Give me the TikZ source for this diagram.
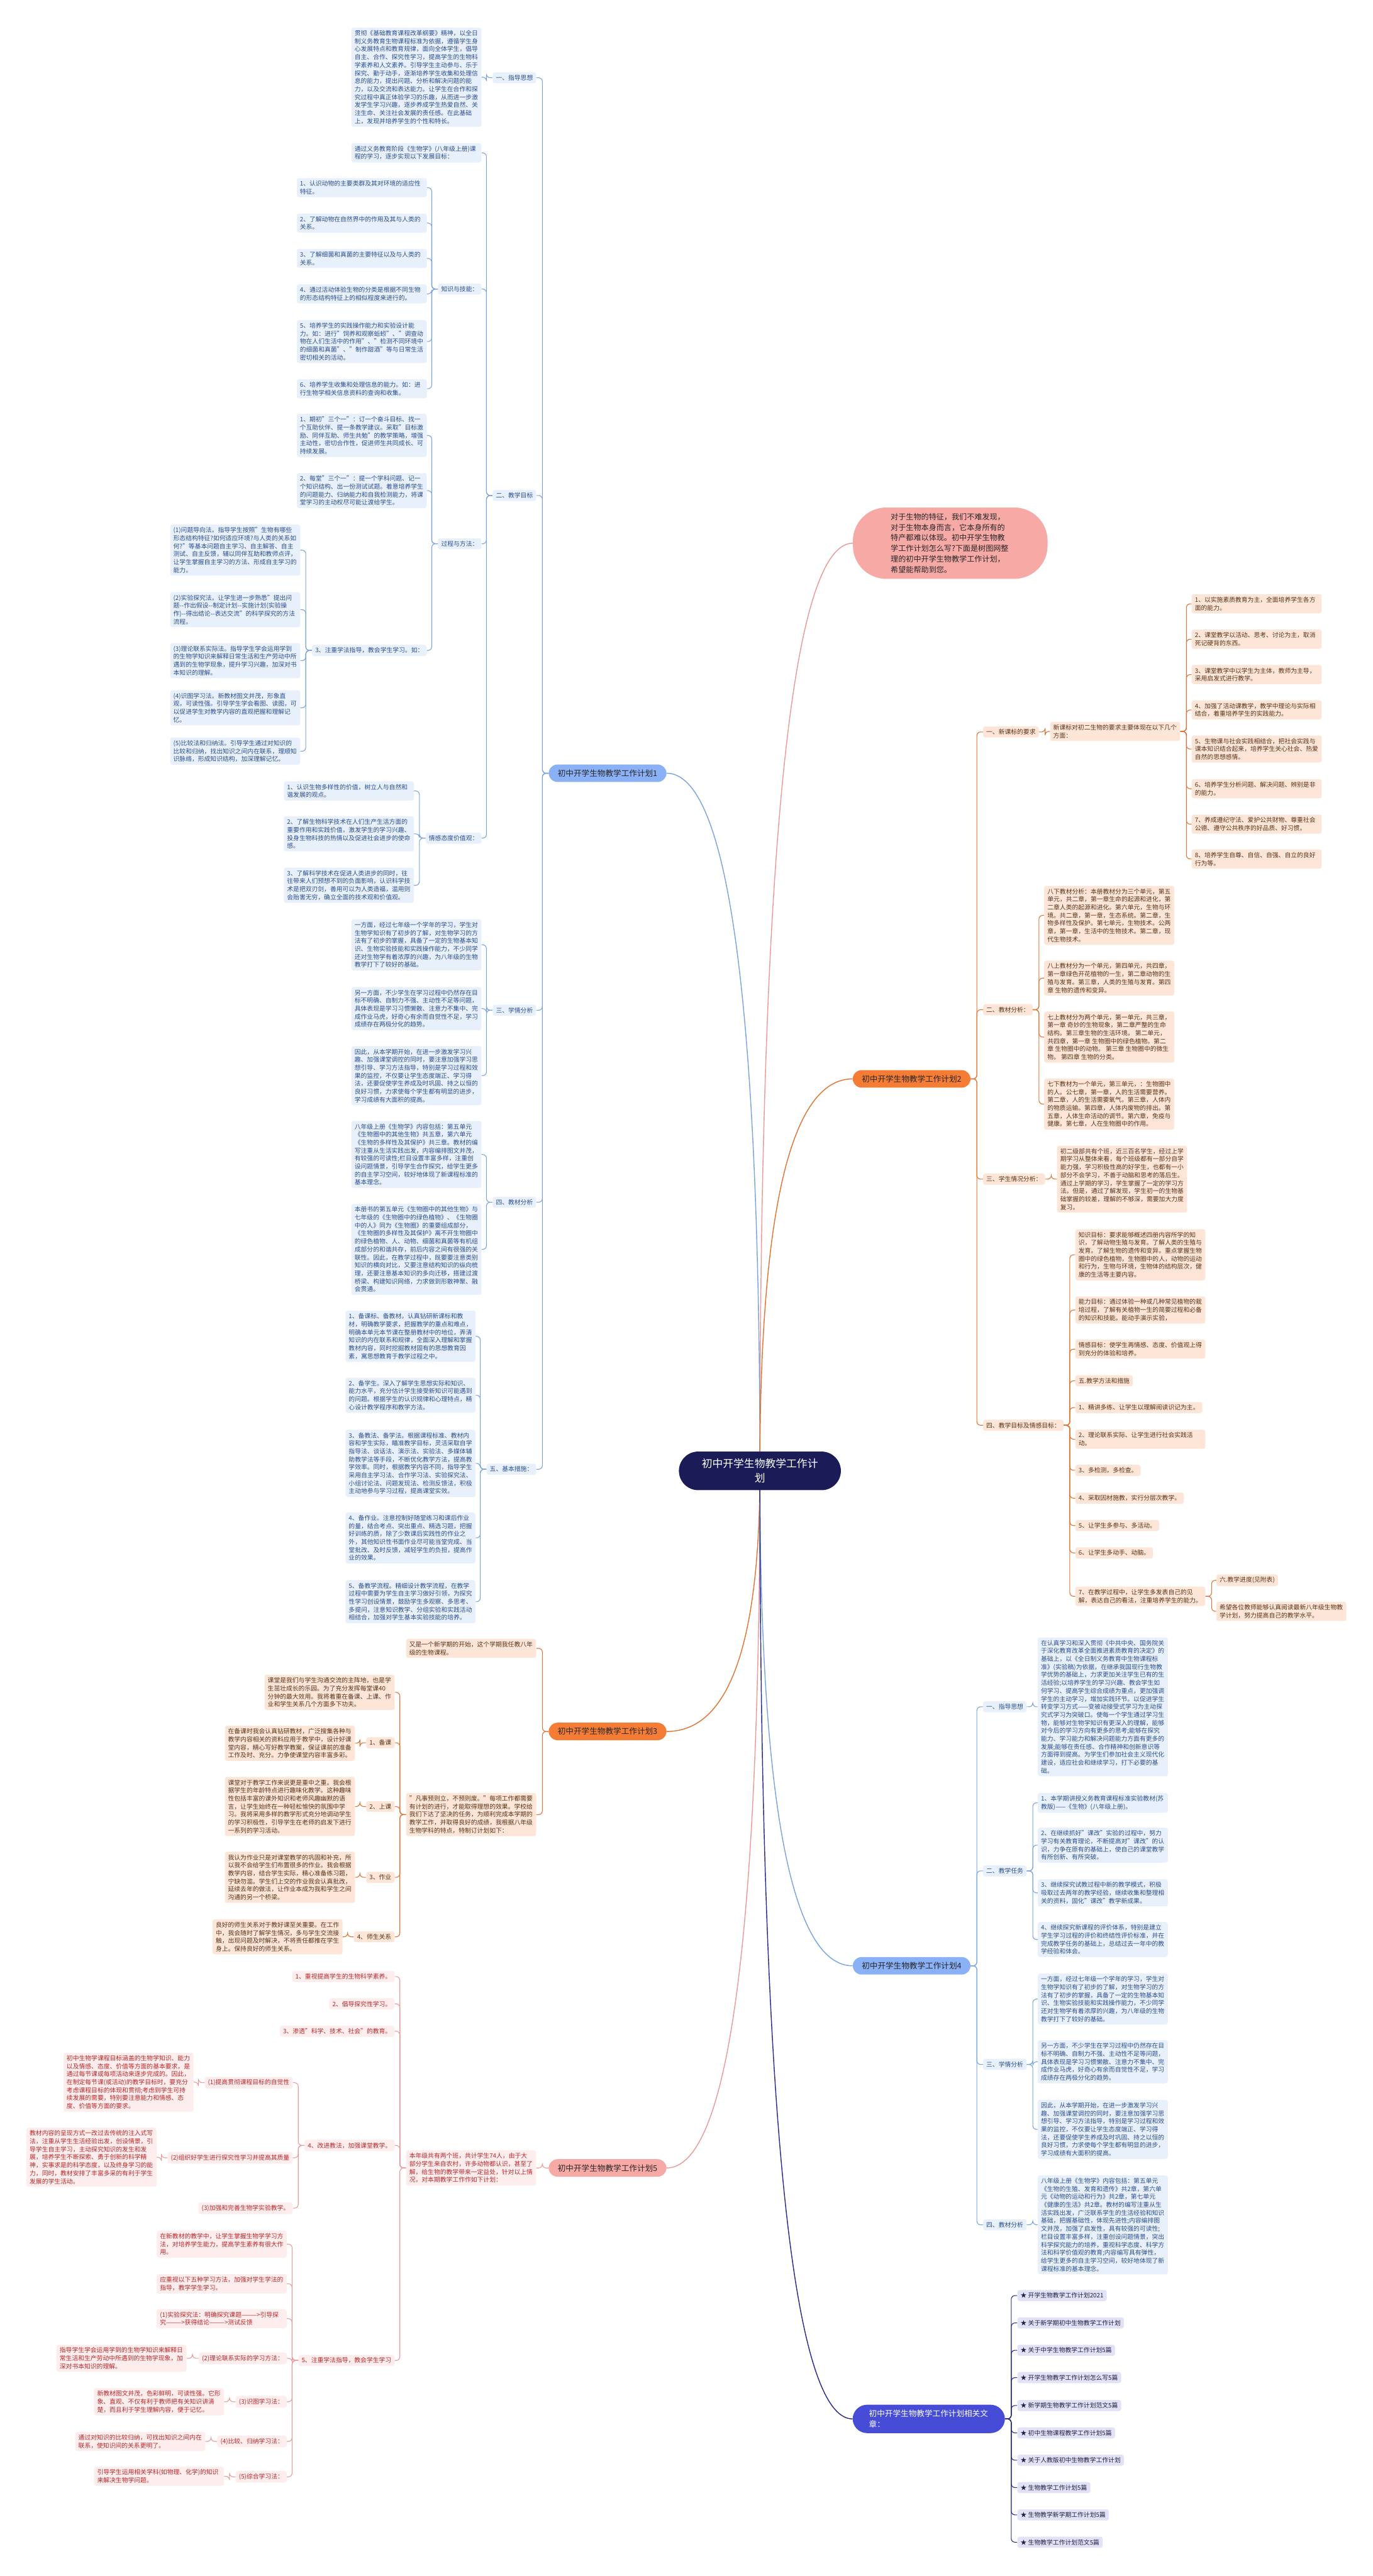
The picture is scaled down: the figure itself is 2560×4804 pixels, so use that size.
\documentclass[tikz,border=0pt]{standalone}
\usepackage{fontspec}
\setmainfont{Noto Sans CJK SC}
\usetikzlibrary{backgrounds}
\XeTeXlinebreaklocale "zh"
\XeTeXlinebreakskip=0pt plus 1pt

\definecolor{blLine}{HTML}{7BA3E0}
\definecolor{blFill}{HTML}{E8F0FC}
\definecolor{blText}{HTML}{2B4F8E}
\definecolor{blMain}{HTML}{8AB0F5}
\definecolor{orLine}{HTML}{E07434}
\definecolor{orFill}{HTML}{FDE5D7}
\definecolor{orText}{HTML}{5A3418}
\definecolor{orMain}{HTML}{F57C35}
\definecolor{pkLine}{HTML}{EC9A98}
\definecolor{pkFill}{HTML}{FDEDED}
\definecolor{pkText}{HTML}{B8282A}
\definecolor{pkMain}{HTML}{F7A9A6}
\definecolor{inLine}{HTML}{2A2C8C}
\definecolor{inFill}{HTML}{E1E1F8}
\definecolor{inText}{HTML}{202040}
\definecolor{inMain}{HTML}{474CD6}
\definecolor{rootFill}{HTML}{1B1B58}

\tikzset{
  txt/.style={rounded corners=4pt, inner xsep=6pt, inner ysep=5pt, align=flush left,
    font=\fontsize{11.5}{14.9}\selectfont},
  para/.style={txt, text width=230.5pt},
  bluebox/.style={fill=blFill, text=blText},
  orangebox/.style={fill=orFill, text=orText},
  pinkbox/.style={fill=pkFill, text=pkText},
  indigobox/.style={fill=inFill, text=inText},
  plan/.style={rounded corners=17pt, inner xsep=17pt, inner ysep=9.5pt, text=black!85,
    font=\fontsize{14.8}{19}\selectfont},
  link/.style={line width=1.3pt, rounded corners=7pt},
  bwire/.style={link, draw=blLine},
  owire/.style={link, draw=orLine},
  pwire/.style={link, draw=pkLine},
  iwire/.style={link, draw=inLine},
  trunk/.style={line width=1.7pt},
}

% 左侧 / 右侧 分支：父节点 -> 一组子节点
\newcommand\leftfan[3]{\foreach \kid in {#3} {\draw[#1] (#2.west) -- ++(-11.5,0) |- (\kid.east);}}
\newcommand\rightfan[3]{\foreach \kid in {#3} {\draw[#1] (#2.east) -- ++(11.5,0) |- (\kid.west);}}

\begin{document}
\begin{tikzpicture}[x=1pt, y=-1pt, line cap=round, line join=round]

  %% ════ 中心与一级节点 ════
  \node[rounded corners=36pt, fill=rootFill, text=white, minimum width=302pt, minimum height=72pt,
    inner sep=0pt, align=center, font=\fontsize{19.7}{27}\selectfont] (root) at (1417,2743)
    {初中开学生物教学工作计\\划};
  \node[rounded corners=62pt, fill=pkMain, text=black!85, minimum width=363pt, minimum height=133pt,
    text width=222pt, align=flush left, font=\fontsize{14.2}{19.8}\selectfont] (intro) at (1772,1013)
    {对于生物的特征，我们不难发现，\\对于生物本身而言，它本身所有的\\特产都难以体现。初中开学生物教\\学工作计划怎么写?下面是树图网整\\理的初中开学生物教学工作计划，\\希望能帮助到您。};
  \node[plan, fill=blMain] (pa) at (1133,1442) {初中开学生物教学工作计划1};
  \node[plan, fill=orMain] (pb) at (1700,2012) {初中开学生物教学工作计划2};
  \node[plan, fill=orMain] (pc) at (1133,3229) {初中开学生物教学工作计划3};
  \node[plan, fill=blMain] (pd) at (1700,3666) {初中开学生物教学工作计划4};
  \node[plan, fill=pkMain] (pe) at (1133,4043) {初中开学生物教学工作计划5};
  \node[rounded corners=27pt, fill=inMain, text=white, text width=223pt, inner xsep=30.5pt,
    inner ysep=9.6pt, align=flush left, font=\fontsize{14.8}{20}\selectfont] (rel) at (1732,4511)
    {初中开学生物教学工作计划相关文\\章：};

  %% ════ 计划1（左，蓝）════
  \node[txt, bluebox, anchor=east] (a1) at (1000,145) {一、指导思想};
  \node[txt, bluebox, anchor=east] (a2) at (1000,924) {二、教学目标};
  \node[txt, bluebox, anchor=east] (a3) at (1000,1884) {三、学情分析};
  \node[txt, bluebox, anchor=east] (a4) at (1000,2242) {四、教材分析};
  \node[txt, bluebox, anchor=east] (a5) at (1000,2740) {五、基本措施：};

  \node[para, bluebox, anchor=east] (a1t) at (898,144) {贯彻《基础教育课程改革纲要》精神，以全日制义务教育生物课程标准为依据，遵循学生身心发展特点和教育规律，面向全体学生，倡导自主、合作、探究性学习，提高学生的生物科学素养和人文素养。引导学生主动参与、乐于探究、勤于动手，逐渐培养学生收集和处理信息的能力，提出问题、分析和解决问题的能力，以及交流和表达能力。让学生在合作和探究过程中真正体验学习的乐趣，从而进一步激发学生学习兴趣，逐步养成学生热爱自然、关注生命、关注社会发展的责任感。在此基础上，发现并培养学生的个性和特长。};

  \node[para, bluebox, anchor=east] (a2a) at (898,285) {通过义务教育阶段《生物学》(八年级上册)课程的学习，逐步实现以下发展目标：};
  \node[txt, bluebox, anchor=east] (a2b) at (898,539) {知识与技能：};
  \node[txt, bluebox, anchor=east] (a2c) at (898,1014) {过程与方法：};
  \node[txt, bluebox, anchor=east] (a2d) at (898,1563) {情感态度价值观：};

  \node[para, bluebox, anchor=east] (k1) at (796,350) {1、认识动物的主要类群及其对环境的适应性特征。};
  \node[para, bluebox, anchor=east] (k2) at (796,416) {2、了解动物在自然界中的作用及其与人类的关系。};
  \node[para, bluebox, anchor=east] (k3) at (796,482) {3、了解细菌和真菌的主要特征以及与人类的关系。};
  \node[para, bluebox, anchor=east] (k4) at (796,548) {4、通过活动体验生物的分类是根据不同生物的形态结构特征上的相似程度来进行的。};
  \node[para, bluebox, anchor=east] (k5) at (796,637) {5、培养学生的实践操作能力和实验设计能力。如：进行"饲养和观察蚯蚓"、"调查动物在人们生活中的作用"、"检测不同环境中的细菌和真菌"、"制作甜酒"等与日常生活密切相关的活动。};
  \node[para, bluebox, anchor=east] (k6) at (796,725) {6、培养学生收集和处理信息的能力。如：进行生物学相关信息资料的查询和收集。};

  \node[para, bluebox, anchor=east] (m1) at (796,812) {1、期初"三个一"：订一个奋斗目标、找一个互助伙伴、提一条教学建议。采取"目标激励、同伴互助、师生共勉"的教学策略，增强主动性，密切合作性，促进师生共同成长、可持续发展。};
  \node[para, bluebox, anchor=east] (m2) at (796,915) {2、每堂"三个一"：提一个学科问题、记一个知识结构、出一份测试试题。着意培养学生的问题能力、归纳能力和自我检测能力，将课堂学习的主动权尽可能让渡给学生。};
  \node[txt, bluebox, anchor=east] (m3) at (796,1213) {3、注重学法指导，教会学生学习。如：};

  \node[para, bluebox, anchor=east] (f1) at (560,1026) {(1)问题导向法。指导学生按照"生物有哪些形态结构特征?如何适应环境?与人类的关系如何?"等基本问题自主学习、自主解答、自主测试、自主反馈，辅以同伴互助和教师点评，让学生掌握自主学习的方法、形成自主学习的能力。};
  \node[para, bluebox, anchor=east] (f2) at (560,1137) {(2)实验探究法。让学生进一步熟悉"提出问题-{}-作出假设-{}-制定计划-{}-实施计划(实验操作)-{}-得出结论-{}-表达交流"的科学探究的方法流程。};
  \node[para, bluebox, anchor=east] (f3) at (560,1232) {(3)理论联系实际法。指导学生学会运用学到的生物学知识来解释日常生活和生产劳动中所遇到的生物学现象，提升学习兴趣，加深对书本知识的理解。};
  \node[para, bluebox, anchor=east] (f4) at (560,1320) {(4)识图学习法。新教材图文并茂，形象直观，可读性强。引导学生学会看图、读图，可以促进学生对教学内容的直观把握和理解记忆。};
  \node[para, bluebox, anchor=east] (f5) at (560,1401) {(5)比较法和归纳法。引导学生通过对知识的比较和归纳，找出知识之间内在联系，理顺知识脉络，形成知识结构，加深理解记忆。};

  \node[para, bluebox, anchor=east] (v1) at (772,1475) {1、认识生物多样性的价值，树立人与自然和谐发展的观点。};
  \node[para, bluebox, anchor=east] (v2) at (772,1555) {2、了解生物科学技术在人们生产生活方面的重要作用和实践价值，激发学生的学习兴趣、投身生物科技的热情以及促进社会进步的使命感。};
  \node[para, bluebox, anchor=east] (v3) at (772,1651) {3、了解科学技术在促进人类进步的同时，往往带来人们预想不到的负面影响，认识科学技术是把双刃剑，善用可以为人类造福，滥用则会贻害无穷，确立全面的技术观和价值观。};

  \node[para, bluebox, anchor=east] (a3a) at (898,1762) {一方面，经过七年级一个学年的学习，学生对生物学知识有了初步的了解，对生物学习的方法有了初步的掌握，具备了一定的生物基本知识、生物实验技能和实践操作能力，不少同学还对生物学有着浓厚的兴趣，为八年级的生物教学打下了较好的基础。};
  \node[para, bluebox, anchor=east] (a3b) at (898,1881) {另一方面，不少学生在学习过程中仍然存在目标不明确、自制力不强、主动性不足等问题，具体表现是学习习惯懒散、注意力不集中、完成作业马虎，好奇心有余而自觉性不足，学习成绩存在两极分化的趋势。};
  \node[para, bluebox, anchor=east] (a3c) at (898,2006) {因此，从本学期开始，在进一步激发学习兴趣、加强课堂调控的同时，要注意加强学习思想引导、学习方法指导，特别是学习过程和效果的监控，不仅要让学生态度端正、学习得法，还要促使学生养成及时巩固、持之以恒的良好习惯，力求使每个学生都有明显的进步，学习成绩有大面积的提高。};

  \node[para, bluebox, anchor=east] (a4a) at (898,2153) {八年级上册《生物学》内容包括：第五单元《生物圈中的其他生物》共五章，第六单元《生物的多样性及其保护》共三章。教材的编写注重从生活实践出发，内容编排图文并茂，有较强的可读性;栏目设置丰富多样，注重创设问题情景，引导学生合作探究，给学生更多的自主学习空间，较好地体现了新课程标准的基本理念。};
  \node[para, bluebox, anchor=east] (a4b) at (898,2330) {本册书的第五单元《生物圈中的其他生物》与七年级的《生物圈中的绿色植物》、《生物圈中的人》同为《生物圈》的重要组成部分，《生物圈的多样性及其保护》离不开生物圈中的绿色植物、人、动物、细菌和真菌等有机组成部分的和谐共存，前后内容之间有很强的关联性。因此，在教学过程中，既要要注意类别知识的横向对比，又要注意结构知识的纵向梳理，还要注意基本知识的多向迁移，搭建过渡桥梁、构建知识网络，力求做到形散神聚、融会贯通。};

  \node[para, bluebox, anchor=east] (a5a) at (887,2492) {1、备课标、备教材。认真钻研新课标和教材，明确教学要求，把握教学的重点和难点，明确本单元本节课在整册教材中的地位，弄清知识的内在联系和规律，全面深入理解和掌握教材内容，同时挖掘教材固有的思想教育因素，寓思想教育于教学过程之中。};
  \node[para, bluebox, anchor=east] (a5b) at (887,2602) {2、备学生。深入了解学生思想实际和知识、能力水平，充分估计学生接受新知识可能遇到的问题。根据学生的认识规律和心理特点，精心设计教学程序和教学方法。};
  \node[para, bluebox, anchor=east] (a5c) at (887,2729) {3、备教法、备学法。根据课程标准、教材内容和学生实际，瞄准教学目标，灵活采取自学指导法、谈话法、演示法、实验法、多媒体辅助教学法等手段，不断优化教学方法，提高教学效率。同时，根据教学内容不同，指导学生采用自主学习法、合作学习法、实验探究法、小组讨论法、问题发现法、检测反馈法，积极主动地参与学习过程，提高课堂实效。};
  \node[para, bluebox, anchor=east] (a5d) at (887,2868) {4、备作业。注意控制好随堂练习和课后作业的量，结合考点、突出重点、精选习题，把握好训练的质，除了少数课后实践性的作业之外，其他知识性书面作业尽可能当堂完成、当堂批改、及时反馈，减轻学生的负担，提高作业的效果。};
  \node[para, bluebox, anchor=east] (a5e) at (887,2987) {5、备教学流程。精细设计教学流程，在教学过程中需要为学生自主学习做好引领，为探究性学习创设情景，鼓励学生多观察、多思考、多提问，注意知识教学、分组实验和实践活动相结合，加强对学生基本实验技能的培养。};

  %% ════ 计划3（左，橙）════
  \node[para, orangebox, anchor=east] (c1) at (1000,3074) {又是一个新学期的开始，这个学期我任教八年级的生物课程。};
  \node[para, orangebox, anchor=east] (c2) at (1000,3384) {"凡事预则立，不预则废。"每项工作都需要有计划的进行，才能取得理想的效果。学校给我们下达了坚决的任务，为顺利完成本学期的教学工作，并取得良好的成绩，我根据八年级生物学科的特点，特制订计划如下：};

  \node[para, orangebox, anchor=east] (c2a) at (736,3156) {课堂是我们与学生沟通交流的主阵地，也是学生茁壮成长的乐园。为了充分发挥每堂课40分钟的最大效用。我将着重在备课、上课、作业和学生关系几个方面多下功夫。};
  \node[txt, orangebox, anchor=east] (c2b) at (736,3250) {1、备课};
  \node[txt, orangebox, anchor=east] (c2c) at (736,3369) {2、上课};
  \node[txt, orangebox, anchor=east] (c2d) at (736,3501) {3、作业};
  \node[txt, orangebox, anchor=east] (c2e) at (736,3612) {4、师生关系};

  \node[para, orangebox, anchor=east] (c2bt) at (662,3251) {在备课时我会认真钻研教材，广泛搜集各种与教学内容相关的资料应用于教学中，设计好课堂内容，精心写好教学教案，保证课前的准备工作及时、充分。力争使课堂内容丰富多彩。};
  \node[para, orangebox, anchor=east] (c2ct) at (662,3369) {课堂对于教学工作来说更是重中之重。我会根据学生的年龄特点进行趣味化教学。这种趣味性包括丰富的课外知识和老师风趣幽默的语言，让学生始终在一种轻松愉快的氛围中学习。我将采用多样的教学形式充分地调动学生的学习积极性，引导学生在老师的启发下进行一系列的学习活动。};
  \node[para, orangebox, anchor=east] (c2dt) at (662,3501) {我认为作业只是对课堂教学的巩固和补充，所以我不会给学生们布置很多的作业。我会根据教学内容，结合学生实际，精心准备练习题，宁缺勿滥。学生们上交的作业我会认真批改，延续去年的做法，让作业本成为我和学生之间沟通的另一个桥梁。};
  \node[para, orangebox, anchor=east] (c2et) at (639,3612) {良好的师生关系对于教好课至关重要。在工作中，我会随时了解学生情况，多与学生交流接触，出现问题及时解决，不将责任都推在学生身上。保持良好的师生关系。};

  %% ════ 计划5（左，粉）════
  \node[para, pinkbox, anchor=east] (g0) at (1000,4043) {本年级共有两个班，共计学生74人，由于大部分学生来自农村，许多动物都认识，甚至了解，给生物的教学带来一定益处，针对以上情况，对本期教学工作作如下计划：};

  \node[txt, pinkbox, anchor=east] (g1) at (736,3686) {1、重视提高学生的生物科学素养。};
  \node[txt, pinkbox, anchor=east] (g2) at (736,3737) {2、倡导探究性学习。};
  \node[txt, pinkbox, anchor=east] (g3) at (736,3788) {3、渗透"科学、技术、社会"的教育。};
  \node[txt, pinkbox, anchor=east] (g4) at (736,4001) {4、改进教法，加强课堂教学。};
  \node[txt, pinkbox, anchor=east] (g5) at (736,4402) {5、注重学法指导，教会学生学习};

  \node[txt, pinkbox, anchor=east] (h1) at (546,3884) {(1)提高贯彻课程目标的自觉性};
  \node[txt, pinkbox, anchor=east] (h2) at (546,4024) {(2)组织好学生进行探究性学习并提高其质量};
  \node[txt, pinkbox, anchor=east] (h3) at (546,4118) {(3)加强和完善生物学实验教学。};
  \node[para, pinkbox, anchor=east] (h1t) at (361,3883) {初中生物学课程目标涵盖的生物学知识、能力以及情感、态度、价值等方面的基本要求，是通过每节课或每项活动来逐步完成的。因此，在制定每节课(或活动)的教学目标时，要充分考虑课程目标的体现和贯彻;考虑到学生可持续发展的需要，特别要注意能力和情感、态度、价值等方面的要求。};
  \node[para, pinkbox, anchor=east] (h2t) at (292,4023) {教材内容的呈现方式一改过去传统的注入式写法，注重从学生生活经验出发，创设情景，引导学生自主学习，主动探究知识的发生和发展，培养学生不断探索、勇于创新的科学精神，实事求是的科学态度，以及终身学习的能力，同时，教材安排了丰富多采的有利于学生发展的学生活动。};

  \node[para, pinkbox, anchor=east] (i1) at (535,4185) {在新教材的教学中，让学生掌握生物学学习方法，对培养学生能力，提高学生素养有很大作用。};
  \node[para, pinkbox, anchor=east] (i2) at (535,4259) {应重视以下五种学习方法，加强对学生学法的指导，教学学生学习。};
  \node[para, pinkbox, anchor=east] (i3) at (535,4324) {(1)实验探究法：明确探究课题———>引导探究———>获得结论———>测试反馈};
  \node[txt, pinkbox, anchor=east] (i4) at (535,4398) {(2)理论联系实际的学习方法：};
  \node[txt, pinkbox, anchor=east] (i5) at (535,4479) {(3)识图学习法：};
  \node[txt, pinkbox, anchor=east] (i6) at (535,4553) {(4)比较、归纳学习法：};
  \node[txt, pinkbox, anchor=east] (i7) at (535,4619) {(5)综合学习法：};
  \node[para, pinkbox, anchor=east] (i4t) at (348,4398) {指导学生学会运用学到的生物学知识来解释日常生活和生产劳动中所遇到的生物学现象，加深对书本知识的理解。};
  \node[para, pinkbox, anchor=east] (i5t) at (418,4479) {新教材图文并茂，色彩鲜明，可读性强。它形象、直观、不仅有利于教师把有关知识讲清楚，而且利于学生理解内容，便于记忆。};
  \node[para, pinkbox, anchor=east] (i6t) at (383,4553) {通过对知识的比较归纳，可找出知识之间内在联系，使知识间的关系更明了。};
  \node[para, pinkbox, anchor=east] (i7t) at (418,4618) {引导学生运用相关学科(如物理、化学)的知识来解决生物学问题。};

  %% ════ 计划2（右，橙）════
  \node[txt, orangebox, anchor=west] (b1) at (1833,1365) {一、新课标的要求};
  \node[txt, orangebox, anchor=west] (b2) at (1833,1883) {二、教材分析：};
  \node[txt, orangebox, anchor=west] (b3) at (1833,2199) {三、学生情况分析：};
  \node[txt, orangebox, anchor=west] (b4) at (1833,2658) {四、教学目标及情感目标：};

  \node[para, orangebox, anchor=west] (b1t) at (1958,1364) {新课标对初二生物的要求主要体现在以下几个方面：};
  \node[para, orangebox, anchor=west] (n1) at (2222,1126) {1、以实施素质教育为主，全面培养学生各方面的能力。};
  \node[para, orangebox, anchor=west] (n2) at (2222,1192) {2、课堂教学以活动、思考、讨论为主，取消死记硬背的东西。};
  \node[para, orangebox, anchor=west] (n3) at (2222,1258) {3、课堂教学中以学生为主体，教师为主导，采用启发式进行教学。};
  \node[para, orangebox, anchor=west] (n4) at (2222,1324) {4、加强了活动课教学，教学中理论与实际相结合，着重培养学生的实践能力。};
  \node[para, orangebox, anchor=west] (n5) at (2222,1397) {5、生物课与社会实践相结合，把社会实践与课本知识结合起来，培养学生关心社会、热爱自然的思想感情。};
  \node[para, orangebox, anchor=west] (n6) at (2222,1471) {6、培养学生分析问题、解决问题、辨别是非的能力。};
  \node[para, orangebox, anchor=west] (n7) at (2222,1537) {7、养成遵纪守法、爱护公共财物、尊重社会公德、遵守公共秩序的好品质、好习惯。};
  \node[para, orangebox, anchor=west] (n8) at (2222,1602) {8、培养学生自尊、自信、自强、自立的良好行为等。};

  \node[para, orangebox, anchor=west] (o1) at (1947,1707) {八下教材分析：本册教材分为三个单元，第五单元，共二章，第一章生命的起源和进化，第二章人类的起源和进化。第六单元，生物与环境。共二章，第一章，生态系统。第二章，生物多样性及保护。第七单元，生物技术。公两章，第一章，生活中的生物技术。第二章，现代生物技术。};
  \node[para, orangebox, anchor=west] (o2) at (1947,1824) {八上教材分为一个单元，第四单元，共四章，第一章绿色开花植物的一生，第二章动物的生殖与发育。第三章，人类的生殖与发育。第四章 生物的遗传和变异。};
  \node[para, orangebox, anchor=west] (o3) at (1947,1934) {七上教材分为两个单元，第一单元，共三章，第一章 奇妙的生物现象，第二章严整的生命结构。第三章生物的生活环境。 第二单元，共四章，第一章 生物圈中的绿色植物。第二章 生物圈中的动物。 第三章 生物圈中的微生物。 第四章 生物的分类。};
  \node[para, orangebox, anchor=west] (o4) at (1947,2059) {七下教材为一个单元，第三单元，：生物圈中的人。公七章，第一章，人的生活需要营养。第二章，人的生活需要氧气。第三章，人体内的物质运输。第四章，人体内废物的排出。第五章，人体生命活动的调节。第六章，免疫与健康。第七章，人在生物圈中的作用。};

  \node[para, orangebox, anchor=west] (b3t) at (1971,2199) {初二级部共有个班，近三百名学生，经过上学期学习从整体来看，每个班级都有一部分自学能力强，学习积极性高的好学生，也都有一小部分不会学习，不善于动脑和思考的落后生。通过上学期的学习，学生掌握了一定的学习方法。但是，通过了解发现，学生初一的生物基础掌握的较差，理解的不够深，需要加大力度复习。};

  \node[para, orangebox, anchor=west] (q1) at (2005,2340) {知识目标：要求能够概述四册内容所学的知识，了解动物生殖与发育。了解人类的生殖与发育。了解生物的遗传和变异。重点掌握生物圈中的绿色植物，生物圈中的人，动物的运动和行为，生物与环境，生物体的结构层次，健康的生活等主要内容。};
  \node[para, orangebox, anchor=west] (q2) at (2005,2443) {能力目标：通过体验一种或几种常见植物的栽培过程，了解有关植物一生的简要过程和必备的知识和技能。能动手演示实验，};
  \node[para, orangebox, anchor=west] (q3) at (2005,2516) {情感目标：使学生再情感、态度、价值观上得到充分的体验和培养。};
  \node[txt, orangebox, anchor=west] (q4) at (2005,2575) {五.教学方法和措施};
  \node[txt, orangebox, anchor=west] (q5) at (2005,2625) {1、精讲多练、让学生以理解阅读识记为主。};
  \node[para, orangebox, anchor=west] (q6) at (2005,2684) {2、理论联系实际、让学生进行社会实践活动。};
  \node[txt, orangebox, anchor=west] (q7) at (2005,2742) {3、多检测，多检查。};
  \node[txt, orangebox, anchor=west] (q8) at (2005,2794) {4、采取因材施教，实行分层次教学。};
  \node[txt, orangebox, anchor=west] (q9) at (2005,2845) {5、让学生多参与、多活动。};
  \node[txt, orangebox, anchor=west] (q10) at (2005,2896) {6、让学生多动手、动脑。};
  \node[para, orangebox, anchor=west] (q11) at (2005,2977) {7、在教学过程中，让学生多发表自己的见解，表达自己的看法，注重培养学生的能力。};
  \node[txt, orangebox, anchor=west] (r1) at (2268,2947) {六.教学进度(见附表)};
  \node[para, orangebox, anchor=west] (r2) at (2268,3005) {希望各位教师能够认真阅读最新八年级生物教学计划，努力提高自己的教学水平。};

  %% ════ 计划4（右，蓝）════
  \node[txt, bluebox, anchor=west] (d1) at (1833,3183) {一、指导思想};
  \node[txt, bluebox, anchor=west] (d2) at (1833,3489) {二、教学任务};
  \node[txt, bluebox, anchor=west] (d3) at (1833,3850) {三、学情分析};
  \node[txt, bluebox, anchor=west] (d4) at (1833,4149) {四、教材分析};

  \node[para, bluebox, anchor=west] (d1t) at (1935,3183) {在认真学习和深入贯彻《中共中央、国务院关于深化教育改革全面推进素质教育的决定》的基础上，以《全日制义务教育中生物课程标准》(实验稿)为依据，在继承我国现行生物教学优势的基础上，力求更加关注学生已有的生活经验;以培养学生的学习兴趣、教会学生如何学习、提高学生综合成绩为重点，更加强调学生的主动学习，增加实践环节。以促进学生转变学习方式——变被动接受式学习为主动探究式学习为突破口。使每一个学生通过学习生物，能够对生物学知识有更深入的理解，能够对今后的学习方向有更多的思考;能够在探究能力、学习能力和解决问题能力方面有更多的发展;能够在责任感、合作精神和创新意识等方面得到提高。为学生们参加社会主义现代化建设，适应社会和继续学习，打下必要的基础。};

  \node[para, bluebox, anchor=west] (s1) at (1935,3362) {1、本学期讲授义务教育课程标准实验教材(苏教版)——《生物》(八年级上册)。};
  \node[para, bluebox, anchor=west] (s2) at (1935,3441) {2、在继续抓好"课改"实验的过程中，努力学习有关教育理论，不断提高对"课改"的认识，力争在原有的基础上，使自己的课堂教学有所创新、有所突破。};
  \node[para, bluebox, anchor=west] (s3) at (1935,3530) {3、继续探究试教过程中新的教学模式，积极吸取过去两年的教学经验，继续收集和整理相关的资料，固化"课改"教学新成果。};
  \node[para, bluebox, anchor=west] (s4) at (1935,3617) {4、继续探究新课程的评价体系，特别是建立学生学习过程的评价和终结性评价标准，并在完成教学任务的基础上，总结过去一年中的教学经验和体会。};

  \node[para, bluebox, anchor=west] (t1) at (1935,3728) {一方面，经过七年级一个学年的学习，学生对生物学知识有了初步的了解，对生物学习的方法有了初步的掌握，具备了一定的生物基本知识、生物实验技能和实践操作能力，不少同学还对生物学有着浓厚的兴趣，为八年级的生物教学打下了较好的基础。};
  \node[para, bluebox, anchor=west] (t2) at (1935,3845) {另一方面，不少学生在学习过程中仍然存在目标不明确、自制力不强、主动性不足等问题，具体表现是学习习惯懒散、注意力不集中、完成作业马虎，好奇心有余而自觉性不足，学习成绩存在两极分化的趋势。};
  \node[para, bluebox, anchor=west] (t3) at (1935,3971) {因此，从本学期开始，在进一步激发学习兴趣、加强课堂调控的同时，要注意加强学习思想引导、学习方法指导，特别是学习过程和效果的监控，不仅要让学生态度端正、学习得法，还要促使学生养成及时巩固、持之以恒的良好习惯，力求使每个学生都有明显的进步，学习成绩有大面积的提高。};

  \node[para, bluebox, anchor=west] (d4t) at (1935,4149) {八年级上册《生物学》内容包括：第五单元《生物的生殖、发育和遗传》共2章，第六单元《动物的运动和行为》共2章，第七单元《健康的生活》共2章。教材的编写注重从生活实践出发，广泛联系学生的生活经验和知识基础，把握基础性，体现先进性;内容编排图文并茂，加强了启发性，具有较强的可读性;栏目设置丰富多样，注重创设问题情景，突出科学探究能力的培养，重视科学态度、科学方法和科学价值观的教育;内容编写具有弹性，给学生更多的自主学习空间，较好地体现了新课程标准的基本理念。};

  %% ════ 相关文章（右，靛）════
  \node[txt, indigobox, anchor=west] (w1) at (1897,4281) {★ 开学生物教学工作计划2021};
  \node[txt, indigobox, anchor=west] (w2) at (1897,4332) {★ 关于新学期初中生物教学工作计划};
  \node[txt, indigobox, anchor=west] (w3) at (1897,4383) {★ 关于中学生物教学工作计划5篇};
  \node[txt, indigobox, anchor=west] (w4) at (1897,4434) {★ 开学生物教学工作计划怎么写5篇};
  \node[txt, indigobox, anchor=west] (w5) at (1897,4486) {★ 新学期生物教学工作计划范文5篇};
  \node[txt, indigobox, anchor=west] (w6) at (1897,4537) {★ 初中生物课程教学工作计划5篇};
  \node[txt, indigobox, anchor=west] (w7) at (1897,4588) {★ 关于人教版初中生物教学工作计划};
  \node[txt, indigobox, anchor=west] (w8) at (1897,4639) {★ 生物教学工作计划5篇};
  \node[txt, indigobox, anchor=west] (w9) at (1897,4690) {★ 生物教学新学期工作计划5篇};
  \node[txt, indigobox, anchor=west] (w10) at (1897,4741) {★ 生物教学工作计划范文5篇};

  %% ════ 连线（放在背景层）════
  \begin{pgfonlayer}{background}
    % 中心 -> 一级：二次曲线（控制点 = 中心x, 节点y）
    \draw[pwire, trunk] (root.center) .. controls (1417,1590) and (1475,1013) .. (intro.west);
    \draw[bwire, trunk] (root.center) .. controls (1417,1876) and (1359,1442) .. (pa.east);
    \draw[owire, trunk] (root.center) .. controls (1417,2256) and (1475,2012) .. (pb.west);
    \draw[owire, trunk] (root.center) .. controls (1417,3067) and (1359,3229) .. (pc.east);
    \draw[bwire, trunk] (root.center) .. controls (1417,3358) and (1475,3666) .. (pd.west);
    \draw[pwire, trunk] (root.center) .. controls (1417,3610) and (1359,4043) .. (pe.east);
    \draw[iwire, trunk] (root.center) .. controls (1417,3922) and (1475,4511) .. (rel.west);

    % 计划1
    \leftfan{bwire}{pa}{a1,a2,a3,a4,a5}
    \leftfan{bwire}{a1}{a1t}
    \leftfan{bwire}{a2}{a2a,a2b,a2c,a2d}
    \leftfan{bwire}{a2b}{k1,k2,k3,k4,k5,k6}
    \leftfan{bwire}{a2c}{m1,m2,m3}
    \leftfan{bwire}{m3}{f1,f2,f3,f4,f5}
    \leftfan{bwire}{a2d}{v1,v2,v3}
    \leftfan{bwire}{a3}{a3a,a3b,a3c}
    \leftfan{bwire}{a4}{a4a,a4b}
    \leftfan{bwire}{a5}{a5a,a5b,a5c,a5d,a5e}

    % 计划3
    \leftfan{owire}{pc}{c1,c2}
    \leftfan{owire}{c2}{c2a,c2b,c2c,c2d,c2e}
    \leftfan{owire}{c2b}{c2bt}
    \leftfan{owire}{c2c}{c2ct}
    \leftfan{owire}{c2d}{c2dt}
    \leftfan{owire}{c2e}{c2et}

    % 计划5
    \leftfan{pwire}{pe}{g0}
    \leftfan{pwire}{g0}{g1,g2,g3,g4,g5}
    \leftfan{pwire}{g4}{h1,h2,h3}
    \leftfan{pwire}{h1}{h1t}
    \leftfan{pwire}{h2}{h2t}
    \leftfan{pwire}{g5}{i1,i2,i3,i4,i5,i6,i7}
    \leftfan{pwire}{i4}{i4t}
    \leftfan{pwire}{i5}{i5t}
    \leftfan{pwire}{i6}{i6t}
    \leftfan{pwire}{i7}{i7t}

    % 计划2
    \rightfan{owire}{pb}{b1,b2,b3,b4}
    \rightfan{owire}{b1}{b1t}
    \rightfan{owire}{b1t}{n1,n2,n3,n4,n5,n6,n7,n8}
    \rightfan{owire}{b2}{o1,o2,o3,o4}
    \rightfan{owire}{b3}{b3t}
    \rightfan{owire}{b4}{q1,q2,q3,q4,q5,q6,q7,q8,q9,q10,q11}
    \rightfan{owire}{q11}{r1,r2}

    % 计划4
    \rightfan{bwire}{pd}{d1,d2,d3,d4}
    \rightfan{bwire}{d1}{d1t}
    \rightfan{bwire}{d2}{s1,s2,s3,s4}
    \rightfan{bwire}{d3}{t1,t2,t3}
    \rightfan{bwire}{d4}{d4t}

    % 相关文章
    \rightfan{iwire}{rel}{w1,w2,w3,w4,w5,w6,w7,w8,w9,w10}
  \end{pgfonlayer}

  % 钉死画布
  \pgfresetboundingbox
  \path[use as bounding box] (0,0) rectangle (2560,4804);
\end{tikzpicture}
\end{document}
